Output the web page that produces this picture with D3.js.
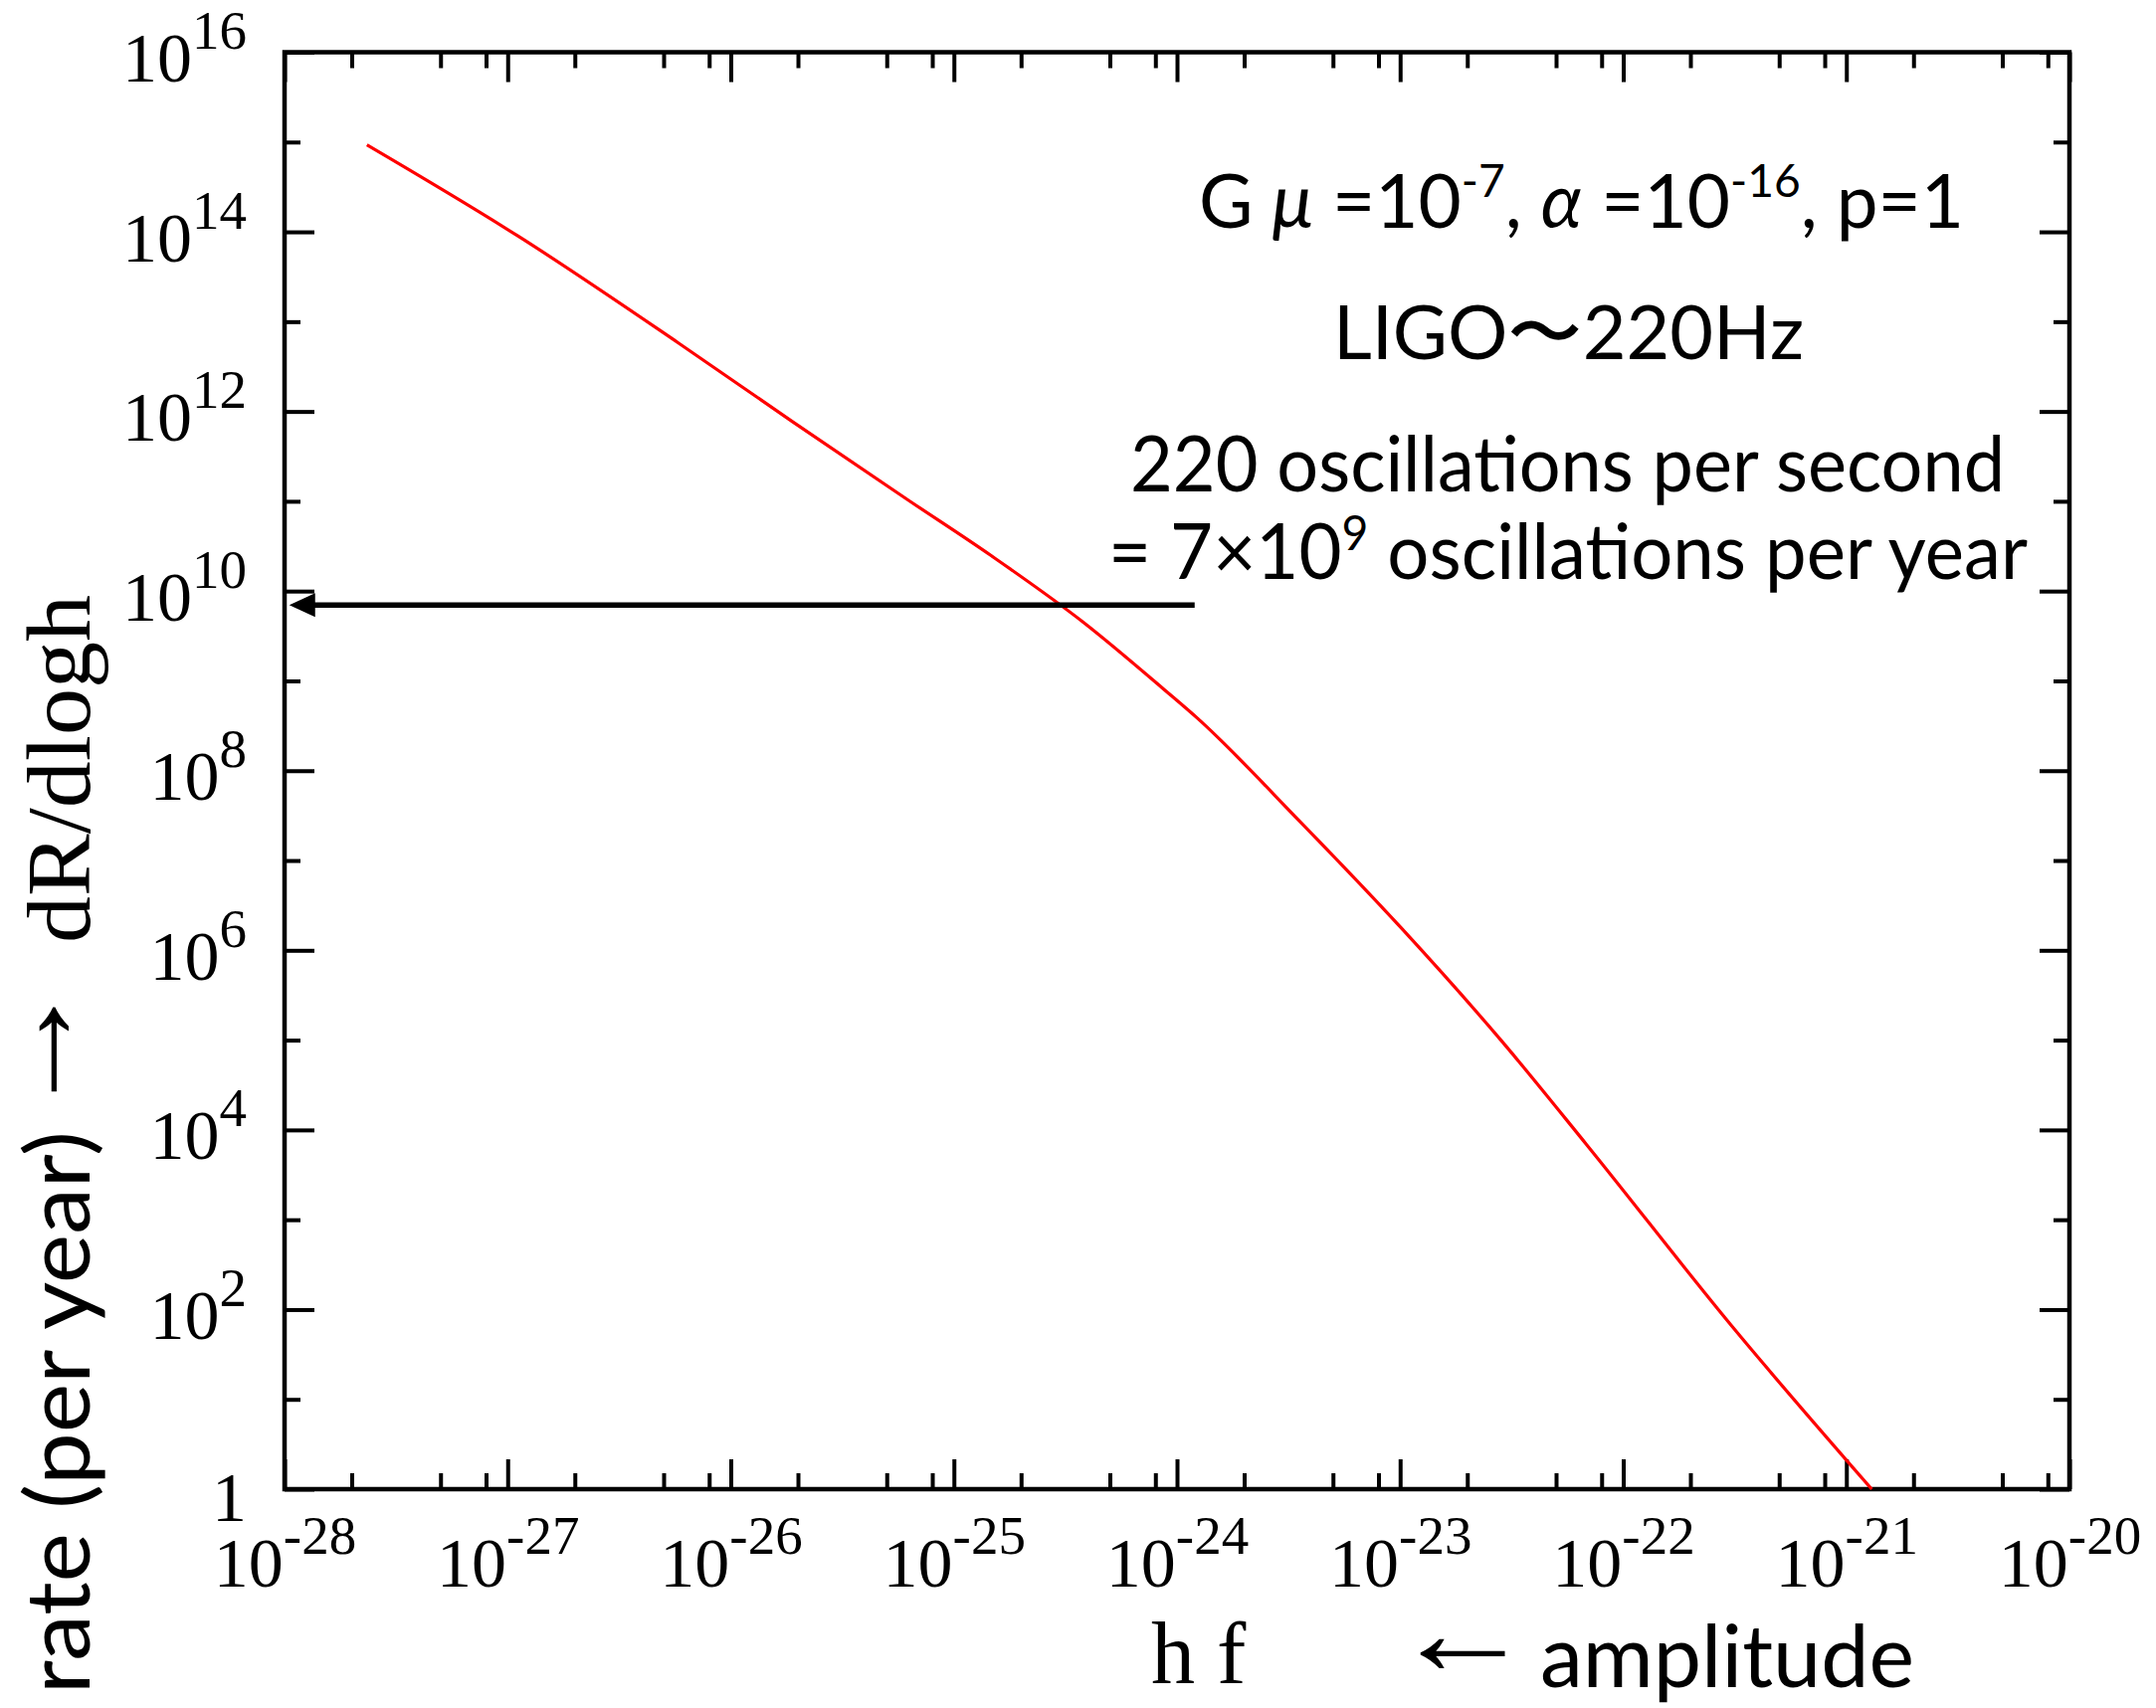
<!DOCTYPE html>
<html>
<head>
<meta charset="utf-8">
<script src="https://cdn.jsdelivr.net/npm/d3@7"></script>
<style>
  html, body { margin: 0; padding: 0; background: #fff; }
  svg { display: block; }
</style>
</head>
<body>
<svg id="chart"></svg>
<script>
// Burst rate per logarithmic amplitude interval, dR/dlog h, against h f
const amplitude = [2.34e-28, 1.12e-27, 5.82e-27, 1.89e-26, 6.17e-26, 1.48e-25, 3.80e-25,
                   8.71e-25, 1.24e-24, 3.54e-24, 1.01e-23, 2.88e-23, 6.84e-23, 3.06e-22, 1.30e-21];
const rate = [9.3e14, 8.9e13, 5.8e12, 7.7e11, 1.05e11, 2.45e10, 4.5e9,
              8.1e8, 3.8e8, 2.75e7, 1.78e6, 9.5e4, 6.9e3, 66, 1];

// Axis decades and tick positions
const xDecades = [-28, -27, -26, -25, -24, -23, -22, -21, -20];
const xMinorMantissas = [2, 5, 8];
const yMajorExponents = [0, 2, 4, 6, 8, 10, 12, 14, 16];
const yMinorExponents = [1, 3, 5, 7, 9, 11, 13, 15];

// Horizontal arrow: LIGO oscillations per year, drawn from its tail to the rate axis
const arrowRate = 7e9;
const arrowAmplitude = [1.2e-24, 1.05e-28];

const W = 2167, H = 1717;
const plot = { left: 286, right: 2080, top: 52.5, bottom: 1497 };

const svg = d3.select("#chart").attr("width", W).attr("height", H);
svg.append("rect").attr("width", W).attr("height", H).attr("fill", "#fff");

const x = d3.scaleLog().domain([1e-28, 1e-20]).range([plot.left, plot.right]);
const y = d3.scaleLog().domain([1, 1e16]).range([plot.bottom, plot.top]);

const xMajor = xDecades.map(e => Math.pow(10, e));
const xMinor = [];
xDecades.slice(0, -1).forEach(e => xMinorMantissas.forEach(m => xMinor.push(m * Math.pow(10, e))));
const yMajor = yMajorExponents.map(e => Math.pow(10, e));
const yMinor = yMinorExponents.map(e => Math.pow(10, e));

const tickFont = "'Liberation Serif', 'DejaVu Serif', serif";
const textFont = "Lato, 'Open Sans', sans-serif";
const arrowFont = "'Liberation Serif'";
const majorLen = 30, minorLen = 16;
const labelSize = 70, supSize = 55;

// Fit an arrow glyph's ink to a box of len x thick pixels, centred at (cx, cy), turned by angle
const measureCtx = document.createElement("canvas").getContext("2d");
function placeArrow(parent, glyph, cx, cy, len, thick, angle) {
  const size = 100;
  measureCtx.font = `${size}px ${arrowFont}`;
  const m = measureCtx.measureText(glyph);
  const inkW = m.actualBoundingBoxLeft + m.actualBoundingBoxRight;
  const inkH = m.actualBoundingBoxAscent + m.actualBoundingBoxDescent;
  const icx = (m.actualBoundingBoxRight - m.actualBoundingBoxLeft) / 2;
  const icy = (m.actualBoundingBoxDescent - m.actualBoundingBoxAscent) / 2;
  const sx = len / inkW, sy = thick / inkH;
  return parent.append("text")
    .attr("font-family", arrowFont).attr("font-size", size).attr("fill", "#000")
    .attr("transform", `translate(${cx},${cy}) rotate(${angle}) scale(${sx},${sy}) translate(${-icx},${-icy})`)
    .text(glyph);
}

function styleAxis(g) {
  g.select(".domain").remove();
  g.selectAll(".tick line").attr("stroke", "#000").attr("stroke-width", 4);
}

// Bottom axis with labels 10^n
const gBottom = svg.append("g")
  .attr("transform", `translate(0,${plot.bottom})`)
  .call(d3.axisBottom(x).tickValues(xMajor).tickSize(-majorLen).tickSizeOuter(0).tickFormat(() => ""));
styleAxis(gBottom);
gBottom.selectAll(".tick text").each(function (d) {
  const t = d3.select(this)
    .attr("y", 98).attr("dy", null)
    .attr("fill", "#000")
    .attr("font-family", tickFont)
    .attr("font-size", labelSize)
    .attr("text-anchor", "middle");
  t.text(null);
  t.append("tspan").text("10");
  t.append("tspan").attr("dy", -33).attr("font-size", supSize).text(String(Math.round(Math.log10(d))));
});
svg.append("g")
  .attr("transform", `translate(0,${plot.bottom})`)
  .call(d3.axisBottom(x).tickValues(xMinor).tickSize(-minorLen).tickSizeOuter(0).tickFormat(() => ""))
  .call(styleAxis);

// Top axis mirrors the bottom ticks
svg.append("g")
  .attr("transform", `translate(0,${plot.top})`)
  .call(d3.axisTop(x).tickValues(xMajor).tickSize(-majorLen).tickSizeOuter(0).tickFormat(() => ""))
  .call(styleAxis);
svg.append("g")
  .attr("transform", `translate(0,${plot.top})`)
  .call(d3.axisTop(x).tickValues(xMinor).tickSize(-minorLen).tickSizeOuter(0).tickFormat(() => ""))
  .call(styleAxis);

// Left axis with labels
const gLeft = svg.append("g")
  .attr("transform", `translate(${plot.left},0)`)
  .call(d3.axisLeft(y).tickValues(yMajor).tickSize(-majorLen).tickSizeOuter(0).tickFormat(() => ""));
styleAxis(gLeft);
gLeft.selectAll(".tick text").each(function (d) {
  const e = Math.round(Math.log10(d));
  const t = d3.select(this)
    .attr("x", -38).attr("dy", null).attr("y", e === 0 ? 31 : 29)
    .attr("fill", "#000")
    .attr("font-family", tickFont)
    .attr("font-size", labelSize)
    .attr("text-anchor", "end");
  t.text(null);
  if (e === 0) {
    t.append("tspan").text("1");
  } else {
    t.append("tspan").text("10");
    t.append("tspan").attr("dy", -33).attr("font-size", supSize).text(String(e));
  }
});
svg.append("g")
  .attr("transform", `translate(${plot.left},0)`)
  .call(d3.axisLeft(y).tickValues(yMinor).tickSize(-minorLen).tickSizeOuter(0).tickFormat(() => ""))
  .call(styleAxis);

// Right axis mirrors the left ticks
svg.append("g")
  .attr("transform", `translate(${plot.right},0)`)
  .call(d3.axisRight(y).tickValues(yMajor).tickSize(-majorLen).tickSizeOuter(0).tickFormat(() => ""))
  .call(styleAxis);
svg.append("g")
  .attr("transform", `translate(${plot.right},0)`)
  .call(d3.axisRight(y).tickValues(yMinor).tickSize(-minorLen).tickSizeOuter(0).tickFormat(() => ""))
  .call(styleAxis);

// Frame
svg.append("rect")
  .attr("x", plot.left).attr("y", plot.top)
  .attr("width", plot.right - plot.left).attr("height", plot.bottom - plot.top)
  .attr("fill", "none").attr("stroke", "#000").attr("stroke-width", 4.5);

// Rate curve
const points = amplitude.map((a, i) => ({ a, r: rate[i] }));
svg.append("path")
  .datum(points)
  .attr("fill", "none")
  .attr("stroke", "#ff0000")
  .attr("stroke-width", 3.2)
  .attr("d", d3.line().x(d => x(d.a)).y(d => y(d.r)).curve(d3.curveMonotoneX));

// Arrow at the LIGO oscillation count
const ay = y(arrowRate);
const tailX = x(arrowAmplitude[0]);
const tipX = x(arrowAmplitude[1]);
const headLen = 26, headHalf = 12;
svg.append("line")
  .attr("x1", tailX).attr("x2", tipX + headLen - 2)
  .attr("y1", ay).attr("y2", ay)
  .attr("stroke", "#000").attr("stroke-width", 5.5);
svg.append("path")
  .attr("d", `M${tipX},${ay}L${tipX + headLen},${ay - headHalf}L${tipX + headLen},${ay + headHalf}Z`)
  .attr("fill", "#000");

// Annotation block
const notes = svg.append("g").attr("fill", "#000").attr("font-family", textFont);

const l1 = notes.append("text").attr("x", 1205).attr("y", 229).attr("font-size", 76)
  .attr("textLength", 769).attr("lengthAdjust", "spacingAndGlyphs");
l1.append("tspan").text("G ");
l1.append("tspan").attr("font-style", "italic").text("μ");
l1.append("tspan").text(" =10");
l1.append("tspan").attr("dy", -31).attr("font-size", 47).text("-7");
l1.append("tspan").attr("dy", 31).text(",  ");
l1.append("tspan").attr("font-style", "italic").text("α");
l1.append("tspan").text(" =10");
l1.append("tspan").attr("dy", -31).attr("font-size", 47).text("-16");
l1.append("tspan").attr("dy", 31).text(", p=1");

notes.append("text").attr("x", 1340).attr("y", 361).attr("font-size", 76)
  .attr("textLength", 473).attr("lengthAdjust", "spacingAndGlyphs")
  .text("LIGO\u301C220Hz");

notes.append("text").attr("x", 1136).attr("y", 494).attr("font-size", 77)
  .attr("textLength", 879).attr("lengthAdjust", "spacingAndGlyphs")
  .text("220 oscillations per second");

const l4 = notes.append("text").attr("x", 1114).attr("y", 582).attr("font-size", 77)
  .attr("textLength", 924).attr("lengthAdjust", "spacingAndGlyphs");
l4.append("tspan").text("= 7×10");
l4.append("tspan").attr("dy", -29).attr("font-size", 48).text("9");
l4.append("tspan").attr("dy", 29).text(" oscillations per year");

// X axis title
svg.append("text").attr("x", 1157).attr("y", 1692)
  .attr("font-family", tickFont).attr("font-size", 88).attr("fill", "#000")
  .text("h f");
placeArrow(svg, "\u2190", 1470, 1662, 86, 30, 0);
svg.append("text").attr("x", 1548).attr("y", 1696)
  .attr("font-family", textFont).attr("font-size", 87).attr("fill", "#000")
  .attr("textLength", 376).attr("lengthAdjust", "spacingAndGlyphs")
  .text("amplitude");

// Y axis title, reading upward
const yTitle = svg.append("g").attr("fill", "#000");
yTitle.append("text")
  .attr("transform", "translate(90,1703) rotate(-90)")
  .attr("font-family", textFont).attr("font-size", 89)
  .attr("textLength", 566).attr("lengthAdjust", "spacingAndGlyphs")
  .text("rate (per year)");
placeArrow(yTitle, "\u2192", 54, 1055, 86, 30, -90);
yTitle.append("text")
  .attr("transform", "translate(90,948) rotate(-90)")
  .attr("font-family", tickFont).attr("font-size", 92)
  .attr("textLength", 350).attr("lengthAdjust", "spacingAndGlyphs")
  .text("dR/dlogh");
</script>
</body>
</html>
